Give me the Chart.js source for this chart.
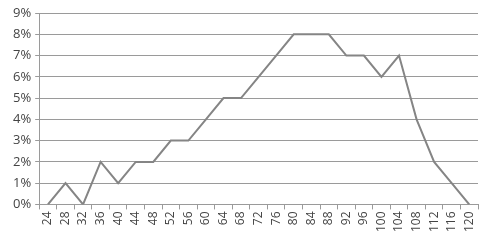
<!DOCTYPE html>
<html lang="en">
<head>
  <meta charset="UTF-8" />
  <title>Line chart</title>
  <style>
    html, body {
      margin: 0;
      padding: 0;
      background: #fff;
    }
    .wrap {
      width: 486px;
      height: 240px;
    }
  </style>
</head>
<body>
  <div class="wrap">
    <canvas id="chart" width="486" height="240"></canvas>
  </div>

  <script src="https://cdn.jsdelivr.net/npm/chart.js"></script>
  <script>
    const categories = ['24', '28', '32', '36', '40', '44', '48', '52', '56', '60', '64', '68', '72',
                        '76', '80', '84', '88', '92', '96', '100', '104', '108', '112', '116', '120'];
    const values = [0, 1, 0, 2, 1, 2, 2, 3, 3, 4, 5, 5, 6, 7, 8, 8, 8, 7, 7, 6, 7, 4, 2, 1, 0];
    const yTicks = [0, 1, 2, 3, 4, 5, 6, 7, 8, 9];

    const ctx = document.getElementById('chart').getContext('2d');
    new Chart(ctx, {
      type: 'line',
      data: {
        labels: categories,
        datasets: [{
          data: values,
          borderColor: '#858585',
          borderWidth: 2,
          pointRadius: 0,
          tension: 0,
          fill: false
        }]
      },
      options: {
        responsive: false,
        animation: false,
        layout: { padding: { top: 13, right: 8, left: 9, bottom: 6 } },
        plugins: {
          legend: { display: false },
          tooltip: { enabled: false }
        },
        scales: {
          x: {
            offset: true,
            grid: {
              offset: true,
              drawOnChartArea: false,
              drawTicks: true,
              tickLength: 5,
              color: '#9a9a9a'
            },
            border: { color: '#9a9a9a' },
            ticks: {
              minRotation: 90,
              maxRotation: 90,
              autoSkip: false,
              color: '#444',
              padding: 2,
              font: { family: 'Open Sans', size: 12 }
            }
          },
          y: {
            min: yTicks[0],
            max: yTicks[yTicks.length - 1],
            afterBuildTicks: axis => { axis.ticks = yTicks.map(v => ({ value: v })); },
            grid: {
              color: '#9a9a9a',
              tickLength: 4
            },
            border: { color: '#9a9a9a' },
            ticks: {
              color: '#444',
              padding: 4,
              font: { family: 'Open Sans', size: 13 },
              callback: v => v + '%'
            }
          }
        }
      }
    });
  </script>
</body>
</html>
